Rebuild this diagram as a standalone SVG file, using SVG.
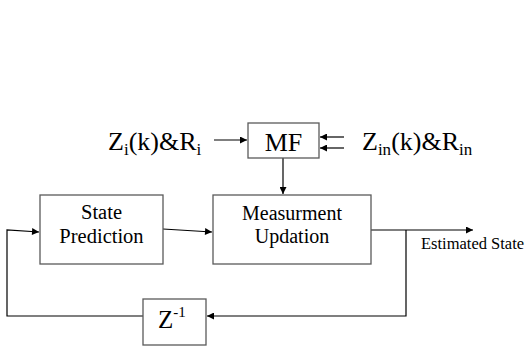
<svg xmlns="http://www.w3.org/2000/svg" width="527" height="350" viewBox="0 0 527 350">
  <style>
    .box { fill: #ffffff; stroke: #5a5a5a; stroke-width: 1.3; }
    .wire { fill: none; stroke: #000000; stroke-width: 1.2; }
    .lbl { fill: #000000; }
  </style>
  <defs>
    <marker id="arrow" viewBox="0 0 10 10" refX="10" refY="5" markerWidth="9" markerHeight="7" markerUnits="userSpaceOnUse" orient="auto">
      <path d="M0,0 L10,5 L0,10 z" fill="#000000"/>
    </marker>
  </defs>
  <rect width="527" height="350" fill="#ffffff"/>

  <!-- connectors -->
  <g id="connectors">
    <line class="wire" x1="214" y1="140" x2="247" y2="140" marker-end="url(#arrow)"/>
    <line class="wire" x1="344" y1="137" x2="320" y2="137" marker-end="url(#arrow)"/>
    <line class="wire" x1="344" y1="148" x2="320" y2="148" marker-end="url(#arrow)"/>
    <line class="wire" x1="283" y1="158" x2="283" y2="194" marker-end="url(#arrow)"/>
    <line class="wire" x1="163" y1="229" x2="212" y2="232" marker-end="url(#arrow)"/>
    <line class="wire" x1="371" y1="230" x2="473" y2="230" marker-end="url(#arrow)"/>
    <polyline class="wire" points="406,230 406,316 207,316" marker-end="url(#arrow)"/>
    <polyline class="wire" points="143,316 7,316 7,230 39,232" marker-end="url(#arrow)"/>
  </g>

  <g font-family="'Liberation Serif', 'DejaVu Serif', serif">
  <!-- measurement fusion -->
  <g id="mf">
    <rect class="box" x="248" y="123" width="71" height="35"/>
    <text class="lbl" x="283.5" y="151" font-size="26" text-anchor="middle">MF</text>
  </g>

  <!-- input labels -->
  <g id="input-i">
    <text class="lbl" x="108" y="150" font-size="26">Z<tspan font-size="17" dy="5">i</tspan><tspan dy="-5">(k)&amp;R</tspan><tspan font-size="17" dy="5">i</tspan></text>
  </g>
  <g id="input-in">
    <text class="lbl" x="362" y="150" font-size="26">Z<tspan font-size="17" dy="5">in</tspan><tspan dy="-5">(k)&amp;R</tspan><tspan font-size="17" dy="5">in</tspan></text>
  </g>

  <!-- state prediction -->
  <g id="state-prediction">
    <rect class="box" x="40" y="195" width="123" height="69"/>
    <text class="lbl" x="101.5" y="219" font-size="20.5" text-anchor="middle">State</text>
    <text class="lbl" x="101.5" y="243" font-size="20.5" text-anchor="middle">Prediction</text>
  </g>

  <!-- measurement update -->
  <g id="measurement-updation">
    <rect class="box" x="213" y="195" width="158" height="69"/>
    <text class="lbl" x="292" y="220" font-size="20" text-anchor="middle">Measurment</text>
    <text class="lbl" x="292" y="243" font-size="20" text-anchor="middle">Updation</text>
  </g>

  <!-- output label -->
  <g id="estimated-state">
    <text class="lbl" x="421" y="249" font-size="16.5">Estimated State</text>
  </g>

  <!-- unit delay -->
  <g id="delay">
    <rect class="box" x="143" y="299" width="63" height="46"/>
    <text class="lbl" x="158" y="328" font-size="25">Z<tspan font-size="15" dy="-11">-1</tspan></text>
  </g>
  </g>
</svg>
